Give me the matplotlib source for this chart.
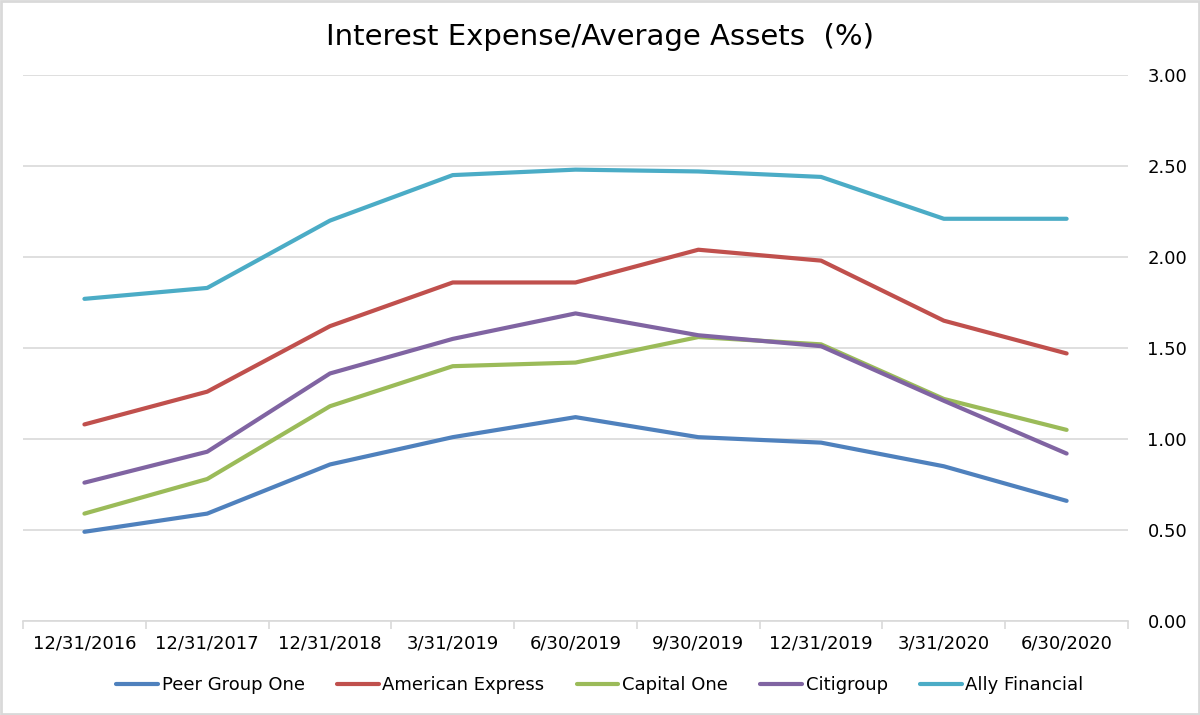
import numpy as np
import matplotlib.pyplot as plt
from matplotlib.ticker import FixedLocator, FormatStrFormatter

plt.rcParams["font.family"] = ["DejaVu Sans"]

dates = ["12/31/2016", "12/31/2017", "12/31/2018", "3/31/2019", "6/30/2019",
         "9/30/2019", "12/31/2019", "3/31/2020", "6/30/2020"]

peer_group_one = [0.49, 0.59, 0.86, 1.01, 1.12, 1.01, 0.98, 0.85, 0.66]
american_express = [1.08, 1.26, 1.62, 1.86, 1.86, 2.04, 1.98, 1.65, 1.47]
capital_one = [0.59, 0.78, 1.18, 1.40, 1.42, 1.56, 1.52, 1.22, 1.05]
citigroup = [0.76, 0.93, 1.36, 1.55, 1.69, 1.57, 1.51, 1.21, 0.92]
ally_financial = [1.77, 1.83, 2.20, 2.45, 2.48, 2.47, 2.44, 2.21, 2.21]

series = [
    ("Peer Group One", peer_group_one, "#4F81BD"),
    ("American Express", american_express, "#C0504D"),
    ("Capital One", capital_one, "#9BBB59"),
    ("Citigroup", citigroup, "#8064A2"),
    ("Ally Financial", ally_financial, "#4BACC6"),
]

fig = plt.figure(figsize=(12, 7.15), dpi=100)
ax = fig.add_axes([0.0192, 0.1315, 0.9208, 0.7636])

x = np.arange(len(dates))
for name, vals, color in series:
    ax.plot(x, vals, color=color, linewidth=3, label=name, solid_capstyle="round")

ax.set_xlim(-0.5, len(dates) - 0.5)
ax.set_ylim(0, 3.0)
ax.set_yticks(np.arange(0, 3.01, 0.5))
ax.yaxis.set_major_formatter(FormatStrFormatter("%.2f"))
ax.yaxis.tick_right()
ax.tick_params(axis="y", length=0, pad=14, labelsize=13)
ax.grid(axis="y", color="#D9D9D9", linewidth=1.2)
ax.set_axisbelow(True)

ax.set_xticks(x)
ax.set_xticklabels(dates, fontsize=13)
ax.xaxis.set_minor_locator(FixedLocator(np.arange(-0.5, len(dates), 1.0)))
ax.tick_params(axis="x", which="major", length=0, pad=10)
ax.tick_params(axis="x", which="minor", length=6, color="#D9D9D9", width=1.2)

for side in ["top", "left", "right"]:
    ax.spines[side].set_visible(False)
ax.spines["bottom"].set_color("#D9D9D9")
ax.spines["bottom"].set_linewidth(1.2)

fig.text(0.5, 0.948, "Interest Expense/Average Assets  (%)", ha="center", va="center", fontsize=21)

fig.legend(loc="center", bbox_to_anchor=(0.5, 0.042), ncol=5, frameon=False,
           fontsize=13, handlelength=2.3, handletextpad=0.2, columnspacing=1.8)

border = plt.Rectangle((0.001, 0.001), 0.998, 0.998, transform=fig.transFigure,
                       fill=False, edgecolor="#D9D9D9", linewidth=2)
fig.patches.append(border)

fig.savefig("out.png", dpi=100)
